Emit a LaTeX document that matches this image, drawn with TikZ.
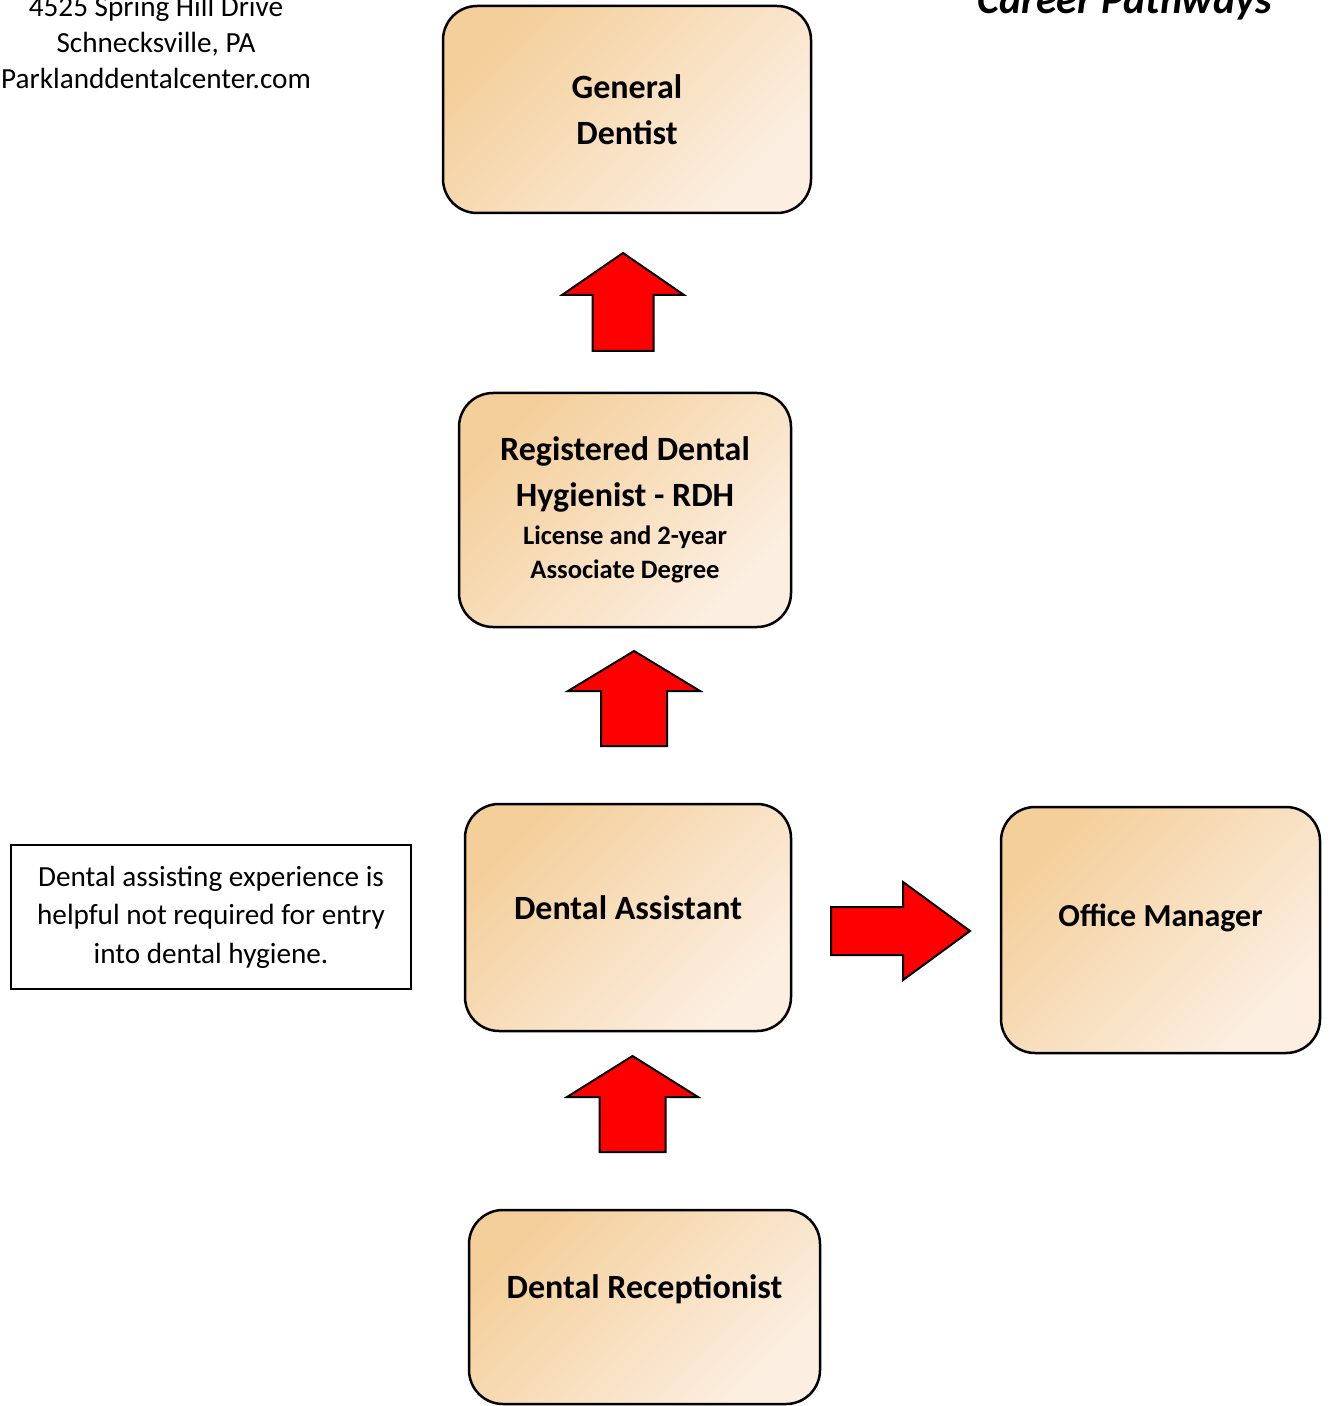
\documentclass[tikz,border=0pt]{standalone}
\usepackage{fontspec}
\setmainfont{Carlito}
\usepackage{tikz}
\usetikzlibrary{positioning}
\usepackage{xcolor}
\definecolor{pescaScuro}{RGB}{244,207,154}
\definecolor{pescaChiaro}{RGB}{252,239,226}
\definecolor{rossoFreccia}{RGB}{255,0,0}
\newcommand{\frecciaSu}[6]{
\draw[freccia] (#1,#2) -- (#1+#5,#3) -- (#1+#6,#3) -- (#1+#6,#4) -- (#1-#6,#4) -- (#1-#6,#3) -- (#1-#5,#3) -- cycle;
}
\tikzset{
    casella/.style = {draw = black, line width = 1.25pt, rounded corners = 17pt, top color = pescaScuro, bottom color = pescaChiaro, shading angle = 45, align = center, inner sep = 0pt, font = \fontsize{17}{23}\selectfont\bfseries},
    freccia/.style = {draw = black, line width = 1pt, fill = rossoFreccia, line join = miter},
    nota/.style = {draw = black, line width = 0.6pt, align = center, inner sep = 0pt, font = \fontsize{14.6}{19.25}\selectfont}
}

\begin{document}
\begin{tikzpicture}[x = 0.5pt, y = -0.5pt]
    \useasboundingbox (0,0) rectangle (1329,1406);
    % Intestazione
    \node[anchor = north, align = center, inner sep = 0pt, font = \fontsize{14.6}{18}\selectfont] (indirizzo) at (156,-4) {4525 Spring Hill Drive\\Schnecksville, PA\\Parklanddentalcenter.com};
    \node[anchor = base, inner sep = 0pt, font = \fontsize{21}{25}\selectfont\bfseries\itshape] (titolo) at (1124.5,14) {Career Pathways};
    % Caselle
    \node[casella, minimum width = 184pt, minimum height = 103.5pt] (dentista) at (627,109.5) {General\\Dentist};
    \node[casella, minimum width = 166pt, minimum height = 117pt] (igienista) at (625,510) {Registered Dental\\Hygienist - RDH\\[-4pt]{\fontsize{13.3}{17}\selectfont License and 2-year}\\[-6pt]{\fontsize{13.3}{17}\selectfont Associate Degree}};
    \node[casella, minimum width = 163pt, minimum height = 113.5pt] (assistente) at (628,917.5) {\raisebox{5pt}[\height][\depth]{Dental Assistant}};
    \node[casella, minimum width = 159.5pt, minimum height = 123pt, font = \fontsize{16}{20}\selectfont\bfseries] (manager) at (1160.5,930) {\raisebox{6pt}[\height][\depth]{Office Manager}};
    \node[casella, minimum width = 175.5pt, minimum height = 97pt] (receptionist) at (644.5,1307) {\raisebox{9pt}[\height][\depth]{Dental Receptionist}};
    \node[nota, minimum width = 200pt, minimum height = 72pt] (esperienza) at (211,917) {Dental assisting experience is\\helpful not required for entry\\into dental hygiene.};
    % Frecce
    \frecciaSu{623}{253}{295}{351}{61}{30.5}
    \frecciaSu{634}{651}{691}{746}{66}{33}
    \frecciaSu{632.5}{1056}{1097}{1152}{65.5}{33}
    \draw[freccia] (831,907) -- (903,907) -- (903,882) -- (970,931) -- (903,980) -- (903,955) -- (831,955) -- cycle;
\end{tikzpicture}
\end{document}
